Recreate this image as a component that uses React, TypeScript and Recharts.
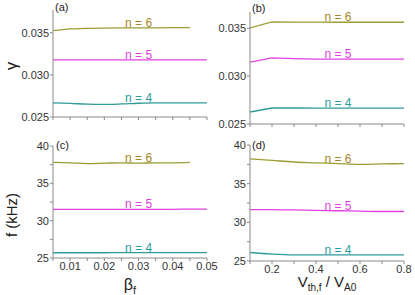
import { LineChart, Line, XAxis, YAxis, ReferenceDot } from 'recharts';

// x values
const betaF = [0.005, 0.01, 0.015, 0.02, 0.025, 0.03, 0.035, 0.04, 0.045, 0.05];
const vth = [0.1, 0.2, 0.3, 0.4, 0.5, 0.6, 0.7, 0.8];

// (a) growth rate vs beta_f
const gammaBetaN6 = [0.03524, 0.03545, 0.03553, 0.03556, 0.03557, 0.03558, 0.03559, 0.0356, 0.0356, null];
const gammaBetaN5 = [0.03179, 0.03179, 0.03179, 0.03179, 0.03179, 0.03179, 0.03179, 0.03179, 0.03179, 0.03179];
const gammaBetaN4 = [0.02667, 0.02662, 0.02652, 0.0265, 0.02655, 0.02663, 0.02667, 0.02667, 0.02667, 0.02667];

// (b) growth rate vs Vth,f / VA0
const gammaVN6 = [0.03503, 0.03566, 0.03565, 0.03564, 0.03563, 0.03563, 0.03563, 0.03563];
const gammaVN5 = [0.03146, 0.03191, 0.03183, 0.03178, 0.03178, 0.03178, 0.03178, 0.03178];
const gammaVN4 = [0.02625, 0.02667, 0.02667, 0.02666, 0.02666, 0.02666, 0.02666, 0.02666];

// (c) frequency vs beta_f
const fBetaN6 = [37.8, 37.75, 37.65, 37.7, 37.75, 37.7, 37.75, 37.75, 37.8, null];
const fBetaN5 = [31.5, 31.5, 31.5, 31.5, 31.5, 31.52, 31.52, 31.52, 31.55, 31.55];
const fBetaN4 = [25.7, 25.7, 25.7, 25.7, 25.72, 25.72, 25.72, 25.72, 25.72, 25.72];

// (d) frequency vs Vth,f / VA0
const fVN6 = [38.2, 38.0, 37.8, 37.7, 37.6, 37.5, 37.55, 37.6];
const fVN5 = [31.65, 31.65, 31.6, 31.55, 31.5, 31.45, 31.4, 31.4];
const fVN4 = [26.1, 25.9, 25.8, 25.8, 25.8, 25.8, 25.8, 25.8];

// ticks
const betaTicks = [0.005, 0.01, 0.015, 0.02, 0.025, 0.03, 0.035, 0.04, 0.045, 0.05];
const vthTicks = [0.1, 0.2, 0.3, 0.4, 0.5, 0.6, 0.7, 0.8];
const gammaTicks = [0.025, 0.03, 0.035];
const fTicks = [25, 27.5, 30, 32.5, 35, 37.5, 40];

const modeLabels = ['n = 6', 'n = 5', 'n = 4'];
const lineColors = ['#9c9c34', '#e040e0', '#2f9a9a'];
const textColors = ['#a8852a', '#e040e0', '#2a9d9d'];

const axisColor = '#8a8a8a';
const tickStyle = { fontSize: 11, fill: '#333', fontFamily: 'Liberation Sans, Arial, sans-serif' };

interface PanelProps {
  left: number;
  top: number;
  width: number;
  height: number;
  marginTop: number;
  marginRight: number;
  xs: number[];
  series: (number | null)[][];
  xDomain: [number, number];
  xTicks: number[];
  xFormat: (v: number) => string;
  xAxisHeight: number;
  yDomain: [number, number];
  yTicks: number[];
  yFormat: (v: number) => string;
  curve: 'monotone' | 'linear';
  labelX: number;
}

function Panel(p: PanelProps) {
  const rows = p.xs.map((x, i) => ({ x, s0: p.series[0][i], s1: p.series[1][i], s2: p.series[2][i] }));
  const at = (arr: (number | null)[]) => {
    const idx = p.xs.findIndex((x) => x >= p.labelX);
    return arr[idx] as number;
  };
  return (
    <div style={{ position: 'absolute', left: p.left, top: p.top }}>
      <LineChart
        width={p.width}
        height={p.height}
        data={rows}
        margin={{ top: p.marginTop, right: p.marginRight, bottom: 0, left: 0 }}
      >
        <XAxis
          dataKey="x"
          type="number"
          domain={p.xDomain}
          ticks={p.xTicks}
          tickFormatter={p.xFormat}
          height={p.xAxisHeight}
          stroke={axisColor}
          tickSize={3}
          tickMargin={1}
          tick={tickStyle}
          interval={0}
          allowDataOverflow
        />
        <YAxis
          type="number"
          domain={p.yDomain}
          ticks={p.yTicks}
          tickFormatter={p.yFormat}
          width={53}
          stroke={axisColor}
          tickSize={3}
          tickMargin={1}
          tick={tickStyle}
          interval={0}
          allowDataOverflow
        />
        {['s0', 's1', 's2'].map((k, i) => (
          <Line
            key={k}
            dataKey={k}
            type={p.curve}
            stroke={lineColors[i]}
            strokeWidth={1.3}
            dot={false}
            activeDot={false}
            isAnimationActive={false}
          />
        ))}
        {p.series.map((s, i) => (
          <ReferenceDot
            key={'lab' + i}
            x={p.labelX}
            y={at(s)}
            r={0}
            stroke="none"
            fill="none"
            label={{
              value: modeLabels[i],
              position: 'top',
              offset: 1,
              fill: textColors[i],
              fontSize: 12,
              fontFamily: 'Liberation Sans, Arial, sans-serif',
            }}
          />
        ))}
      </LineChart>
    </div>
  );
}

const blank = () => '';
const fmtGamma = (v: number) => v.toFixed(3);
const fmtF = (v: number) => (v % 5 === 0 ? String(v) : '');
const fmtBeta = (v: number) => (Math.round(v * 1000) % 10 === 0 ? v.toFixed(2) : '');
const fmtV = (v: number) => (Math.round(v * 10) % 2 === 0 ? v.toFixed(1) : '');

export default function App() {
  const font = 'Liberation Sans, Arial, sans-serif';
  return (
    <div style={{ position: 'absolute', left: 0, top: 0, width: 415, height: 295, background: '#fff', overflow: 'hidden' }}>
      <Panel
        left={0} top={0} width={215} height={125} marginTop={10} marginRight={8}
        xs={betaF} series={[gammaBetaN6, gammaBetaN5, gammaBetaN4]}
        xDomain={[0.005, 0.05]} xTicks={betaTicks} xFormat={blank} xAxisHeight={8}
        yDomain={[0.025, 0.0377]} yTicks={gammaTicks} yFormat={fmtGamma}
        curve="monotone" labelX={0.03}
      />
      <Panel
        left={197} top={0} width={215} height={132} marginTop={12} marginRight={8}
        xs={vth} series={[gammaVN6, gammaVN5, gammaVN4]}
        xDomain={[0.1, 0.8]} xTicks={vthTicks} xFormat={blank} xAxisHeight={8}
        yDomain={[0.025, 0.0367]} yTicks={gammaTicks} yFormat={fmtGamma}
        curve="linear" labelX={0.5}
      />
      <Panel
        left={0} top={140} width={225} height={148} marginTop={6} marginRight={18}
        xs={betaF} series={[fBetaN6, fBetaN5, fBetaN4]}
        xDomain={[0.005, 0.05]} xTicks={betaTicks} xFormat={fmtBeta} xAxisHeight={30}
        yDomain={[25, 40]} yTicks={fTicks} yFormat={fmtF}
        curve="monotone" labelX={0.03}
      />
      <Panel
        left={197} top={140} width={218} height={151} marginTop={5} marginRight={11}
        xs={vth} series={[fVN6, fVN5, fVN4]}
        xDomain={[0.1, 0.8]} xTicks={vthTicks} xFormat={fmtV} xAxisHeight={30}
        yDomain={[25, 40]} yTicks={fTicks} yFormat={fmtF}
        curve="monotone" labelX={0.5}
      />
      <svg width={415} height={295} style={{ position: 'absolute', left: 0, top: 0, pointerEvents: 'none' }}>
        <g fontFamily={font} fill="#222">
          <text x={55} y={11} fontSize={11}>(a)</text>
          <text x={252} y={12} fontSize={11}>(b)</text>
          <text x={56} y={149} fontSize={11}>(c)</text>
          <text x={252} y={149} fontSize={11}>(d)</text>
          <text transform="translate(17,66) rotate(-90)" textAnchor="middle" fontSize={17}>γ</text>
          <text transform="translate(17,215) rotate(-90)" textAnchor="middle" fontSize={15}>f (kHz)</text>
          <text x={130} y={290} textAnchor="middle" fontSize={16}>
            β<tspan fontSize={11} dy={4}>f</tspan>
          </text>
          <text x={327} y={287} textAnchor="middle" fontSize={15}>
            V<tspan fontSize={10} dy={4}>th,f</tspan>
            <tspan dy={-4}> / V</tspan>
            <tspan fontSize={10} dy={4}>A0</tspan>
          </text>
        </g>
      </svg>
    </div>
  );
}
